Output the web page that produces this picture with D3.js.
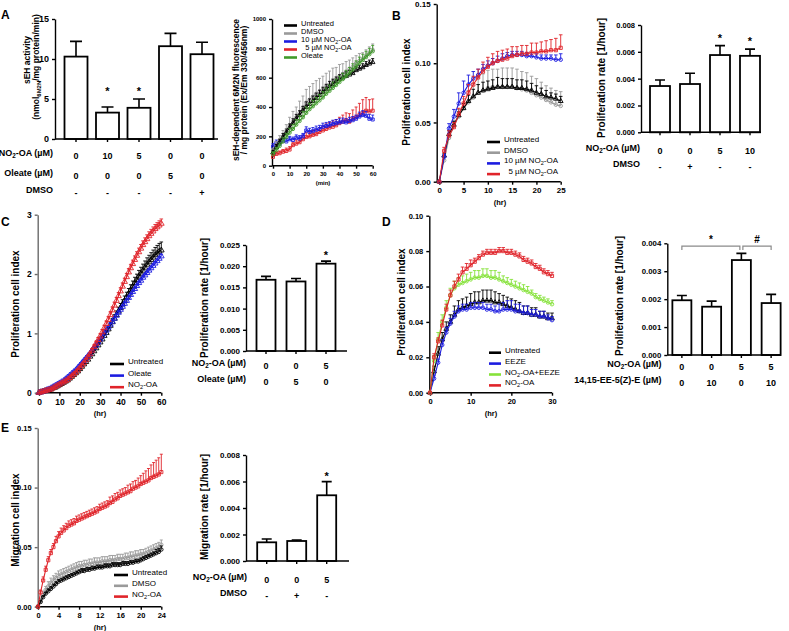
<!DOCTYPE html>
<html>
<head>
<meta charset="utf-8">
<script src="https://cdn.jsdelivr.net/npm/d3@7"></script>
<style>
  body { margin: 0; background: #fff; }
  svg { font-family: "Liberation Sans", Arial, sans-serif; }
</style>
</head>
<body>
<svg id="fig" width="789" height="631"></svg>
<script>
// ---------- data ----------
// A (left): sEH activity
var aActivity = [10.3, 3.3, 3.9, 11.6, 10.6];
var aActivityErr = [1.9, 0.7, 1.1, 1.6, 1.5];
var aStars = ["", "*", "*", "", ""];
var aNO2 = ["0", "10", "5", "0", "0"];
var aOleate = ["0", "0", "0", "5", "0"];
var aDMSO = ["-", "-", "-", "-", "+"];

// A (right): 6M2N fluorescence, every 2 min
var aMinutes = d3.range(0, 61, 2);
var aUntreated = [90,125,160,195,225,260,290,320,345,375,400,420,440,460,480,500,520,540,555,575,590,600,610,620,630,650,660,670,685,695,705];
var aUntreatedErr = [15,20,20,25,25,25,30,30,30,30,35,35,35,35,35,35,35,35,35,30,30,30,30,30,30,25,25,25,25,25,25];
var aDMSOLine = [100,140,175,200,230,270,300,330,360,395,430,450,470,490,505,520,540,555,575,590,610,625,640,660,675,700,715,730,750,770,790];
var aDMSOErr = [20,25,30,40,50,60,70,70,80,80,90,90,90,90,90,90,90,90,90,80,80,70,70,60,60,50,50,40,40,40,40];
var a10NO2 = [130,155,150,170,165,180,175,190,185,200,240,230,235,245,250,265,270,275,285,290,295,300,295,305,310,320,335,345,340,320,315];
var a10NO2Err = [20,20,20,20,20,20,20,20,20,20,25,25,25,25,25,25,25,25,25,25,25,25,25,25,25,25,30,30,30,30,30];
var a5NO2 = [60,80,85,95,100,110,140,150,160,180,195,200,210,215,230,240,250,260,265,275,290,300,310,300,320,330,345,360,375,370,375];
var a5NO2Err = [15,15,15,15,20,20,20,25,25,25,30,30,30,30,30,30,35,35,40,40,40,45,50,55,60,70,80,90,90,80,80];
var aOleateLine = [80,105,135,165,195,225,250,280,305,330,360,385,405,425,445,465,490,510,530,550,570,590,610,630,655,675,700,720,740,760,780];
var aOleateErr = [15,20,20,25,25,30,30,35,35,40,40,40,40,40,40,40,40,40,40,40,40,40,40,40,40,40,40,40,40,40,40];

// B (left): proliferation cell index, hourly
var bHours = d3.range(0, 26);
var bUntreated = [0,0.022,0.040,0.048,0.056,0.062,0.068,0.072,0.075,0.077,0.078,0.079,0.080,0.080,0.080,0.080,0.079,0.079,0.078,0.077,0.075,0.074,0.072,0.071,0.070,0.068];
var bUntreatedErr = [0,0.002,0.003,0.003,0.003,0.004,0.005,0.006,0.007,0.007,0.007,0.007,0.008,0.007,0.007,0.007,0.007,0.007,0.007,0.006,0.006,0.005,0.005,0.004,0.004,0.004];
var bDMSO = [0,0.018,0.037,0.047,0.055,0.062,0.067,0.071,0.075,0.077,0.079,0.080,0.080,0.080,0.080,0.080,0.079,0.078,0.077,0.075,0.073,0.071,0.069,0.067,0.065,0.064];
var bDMSOErr = [0,0.003,0.004,0.005,0.006,0.008,0.010,0.012,0.013,0.014,0.015,0.015,0.015,0.016,0.016,0.016,0.016,0.015,0.015,0.014,0.014,0.013,0.012,0.012,0.012,0.012];
var b10NO2 = [0,0.021,0.045,0.055,0.066,0.075,0.082,0.087,0.090,0.095,0.098,0.100,0.102,0.104,0.106,0.107,0.107,0.107,0.106,0.106,0.105,0.104,0.104,0.104,0.103,0.103];
var b10NO2Err = [0,0.002,0.004,0.006,0.009,0.010,0.008,0.006,0.005,0.004,0.004,0.004,0.004,0.004,0.003,0.003,0.003,0.003,0.003,0.003,0.003,0.003,0.003,0.003,0.004,0.005];
var b5NO2 = [0,0.026,0.039,0.046,0.057,0.066,0.075,0.082,0.088,0.093,0.097,0.100,0.102,0.103,0.104,0.106,0.107,0.108,0.108,0.109,0.109,0.110,0.110,0.111,0.111,0.113];
var b5NO2Err = [0,0.003,0.004,0.004,0.005,0.006,0.007,0.007,0.007,0.008,0.008,0.008,0.008,0.008,0.008,0.008,0.007,0.007,0.007,0.008,0.008,0.008,0.009,0.009,0.010,0.011];

// B (right): proliferation rate
var bRate = [0.00345, 0.0036, 0.00576, 0.0057];
var bRateErr = [0.00045, 0.0008, 0.0007, 0.0005];
var bStars = ["", "", "*", "*"];
var bNO2 = ["0", "0", "5", "10"];
var bDMSOFlag = ["-", "+", "-", "-"];

// C (left): proliferation cell index, hourly
var cHours = d3.range(0, 61);
var cUntreated = [0.00,0.01,0.02,0.03,0.04,0.05,0.06,0.08,0.09,0.11,
  0.13,0.15,0.17,0.19,0.21,0.24,0.27,0.30,0.33,0.36,
  0.40,0.44,0.48,0.52,0.56,0.61,0.65,0.70,0.75,0.80,
  0.85,0.90,0.96,1.01,1.07,1.13,1.19,1.25,1.31,1.37,
  1.43,1.49,1.55,1.61,1.67,1.73,1.79,1.85,1.90,1.96,
  2.01,2.06,2.11,2.16,2.20,2.24,2.28,2.32,2.35,2.38,2.40];
var cUntreatedErr = [0,0.002,0.003,0.004,0.005,0.006,0.007,0.008,0.009,0.010,
  0.011,0.012,0.013,0.014,0.015,0.016,0.018,0.019,0.020,0.022,
  0.024,0.026,0.028,0.030,0.032,0.034,0.036,0.038,0.040,0.042,
  0.045,0.048,0.050,0.053,0.056,0.059,0.062,0.065,0.068,0.071,
  0.074,0.077,0.080,0.083,0.086,0.089,0.092,0.095,0.098,0.101,
  0.104,0.107,0.110,0.113,0.116,0.120,0.124,0.128,0.132,0.136,0.140];
var cOleate = [0.00,0.01,0.02,0.03,0.05,0.06,0.08,0.10,0.12,0.14,
  0.16,0.18,0.20,0.23,0.26,0.29,0.32,0.35,0.38,0.42,
  0.46,0.50,0.54,0.58,0.62,0.66,0.71,0.76,0.80,0.85,
  0.90,0.95,1.00,1.05,1.10,1.15,1.20,1.25,1.30,1.35,
  1.40,1.45,1.50,1.55,1.60,1.65,1.70,1.75,1.80,1.85,
  1.89,1.94,1.98,2.02,2.06,2.10,2.14,2.18,2.22,2.26,2.30];
var cOleateErr = [0,0.001,0.002,0.003,0.004,0.005,0.005,0.006,0.006,0.007,
  0.007,0.008,0.008,0.009,0.009,0.010,0.010,0.011,0.011,0.012,
  0.012,0.013,0.013,0.014,0.014,0.015,0.015,0.016,0.016,0.017,
  0.017,0.018,0.018,0.019,0.019,0.020,0.020,0.021,0.021,0.022,
  0.022,0.023,0.023,0.024,0.024,0.025,0.025,0.026,0.026,0.027,
  0.027,0.028,0.028,0.029,0.029,0.030,0.030,0.031,0.031,0.032,0.032];
var cNO2 = [0.00,0.01,0.02,0.03,0.04,0.05,0.06,0.08,0.10,0.12,
  0.14,0.16,0.18,0.20,0.22,0.25,0.28,0.31,0.34,0.38,
  0.42,0.46,0.50,0.55,0.60,0.65,0.71,0.77,0.83,0.89,
  0.95,1.02,1.09,1.16,1.23,1.31,1.39,1.47,1.55,1.63,
  1.71,1.79,1.87,1.95,2.03,2.10,2.17,2.24,2.31,2.37,
  2.43,2.49,2.54,2.59,2.64,2.68,2.72,2.76,2.79,2.82,2.85];
var cNO2Err = [0,0.002,0.003,0.004,0.005,0.006,0.007,0.008,0.009,0.010,
  0.011,0.012,0.013,0.014,0.015,0.016,0.017,0.018,0.019,0.020,
  0.022,0.024,0.026,0.028,0.030,0.032,0.034,0.036,0.038,0.040,
  0.042,0.044,0.046,0.048,0.050,0.052,0.054,0.055,0.056,0.057,
  0.058,0.059,0.060,0.061,0.062,0.063,0.064,0.065,0.066,0.067,
  0.068,0.069,0.070,0.071,0.072,0.073,0.074,0.075,0.076,0.077,0.078];

// C (right): proliferation rate
var cRate = [0.0168, 0.0164, 0.0206];
var cRateErr = [0.0008, 0.0007, 0.0006];
var cStars = ["", "", "*"];
var cNO2Flag = ["0", "0", "5"];
var cOleateFlag = ["0", "5", "0"];

// D (left): proliferation cell index, hourly
var dHours = d3.range(0, 31);
var dUntreated = [0,0.012,0.022,0.030,0.036,0.040,0.044,0.047,0.048,0.049,0.050,0.051,0.051,0.052,0.052,0.052,0.051,0.051,0.050,0.049,0.048,0.047,0.046,0.045,0.045,0.044,0.044,0.043,0.043,0.042,0.042];
var dUntreatedErr = [0,0.003,0.004,0.004,0.004,0.004,0.005,0.005,0.005,0.005,0.006,0.006,0.006,0.006,0.006,0.006,0.006,0.005,0.005,0.005,0.005,0.005,0.005,0.004,0.004,0.004,0.004,0.003,0.003,0.003,0.003];
var dEEZE = [0,0.008,0.017,0.027,0.034,0.039,0.043,0.046,0.047,0.047,0.048,0.048,0.048,0.048,0.047,0.047,0.046,0.046,0.047,0.047,0.047,0.046,0.046,0.045,0.045,0.044,0.044,0.043,0.043,0.042,0.041];
var dEEZEErr = [0,0.002,0.002,0.003,0.003,0.003,0.003,0.003,0.003,0.003,0.003,0.003,0.003,0.003,0.003,0.003,0.003,0.004,0.004,0.005,0.005,0.004,0.004,0.004,0.004,0.003,0.003,0.003,0.003,0.002,0.002];
var dCombo = [0,0.018,0.030,0.040,0.048,0.055,0.059,0.061,0.062,0.063,0.064,0.065,0.065,0.066,0.066,0.065,0.065,0.064,0.063,0.062,0.061,0.060,0.059,0.058,0.057,0.056,0.054,0.053,0.052,0.051,0.050];
var dComboErr = [0,0.003,0.004,0.004,0.004,0.004,0.004,0.004,0.004,0.004,0.004,0.004,0.004,0.004,0.004,0.004,0.004,0.004,0.003,0.003,0.003,0.003,0.003,0.003,0.003,0.002,0.002,0.002,0.002,0.002,0.002];
var dNO2 = [0,0.020,0.029,0.038,0.047,0.055,0.060,0.064,0.068,0.070,0.072,0.074,0.076,0.078,0.079,0.079,0.079,0.080,0.080,0.079,0.079,0.078,0.077,0.075,0.074,0.073,0.071,0.070,0.068,0.067,0.066];
var dNO2Err = [0,0.002,0.002,0.003,0.003,0.003,0.003,0.003,0.003,0.003,0.003,0.002,0.002,0.002,0.002,0.002,0.002,0.002,0.002,0.002,0.002,0.002,0.002,0.002,0.002,0.002,0.002,0.002,0.002,0.002,0.002];

// D (right): proliferation rate
var dRate = [0.00196, 0.00173, 0.0034, 0.00186];
var dRateErr = [0.00017, 0.0002, 0.00024, 0.00031];
var dNO2Flag = ["0", "0", "5", "5"];
var dEEZEFlag = ["0", "10", "0", "10"];
var dBrackets = [{from: 0, to: 2, label: "*"}, {from: 2, to: 3, label: "#"}];

// E (left): migration cell index, every 30 min
var eHours = d3.range(0, 24.01, 0.5);
var eUntreated = [0.000,0.004,0.008,0.011,0.013,0.015,0.017,0.019,0.021,
  0.022,0.023,0.024,0.025,0.026,0.027,0.028,0.029,
  0.030,0.030,0.031,0.031,0.032,0.032,0.033,0.033,
  0.033,0.034,0.034,0.034,0.035,0.035,0.035,0.035,
  0.036,0.036,0.036,0.037,0.037,0.038,0.038,0.039,
  0.040,0.041,0.042,0.043,0.044,0.045,0.046,0.048];
var eUntreatedErr = [0,0.001,0.001,0.001,0.002,0.002,0.002,0.002,0.002,
  0.002,0.002,0.002,0.002,0.002,0.002,0.002,0.002,
  0.002,0.002,0.002,0.002,0.002,0.002,0.002,0.002,
  0.002,0.002,0.002,0.002,0.002,0.002,0.002,0.002,
  0.002,0.002,0.002,0.002,0.002,0.002,0.002,0.002,
  0.002,0.002,0.002,0.002,0.002,0.003,0.003,0.003];
var eDMSO = [0.000,0.005,0.010,0.014,0.017,0.020,0.022,0.024,0.026,
  0.027,0.028,0.029,0.030,0.031,0.032,0.033,0.034,
  0.034,0.035,0.035,0.036,0.036,0.037,0.037,0.037,
  0.038,0.038,0.038,0.039,0.039,0.039,0.040,0.040,
  0.040,0.041,0.041,0.042,0.042,0.043,0.043,0.044,
  0.044,0.045,0.046,0.047,0.048,0.049,0.050,0.052];
var eDMSOErr = [0,0.002,0.003,0.003,0.004,0.004,0.004,0.004,0.004,
  0.004,0.004,0.004,0.004,0.004,0.004,0.004,0.004,
  0.004,0.004,0.004,0.004,0.004,0.004,0.004,0.004,
  0.004,0.004,0.004,0.004,0.004,0.004,0.004,0.004,
  0.004,0.004,0.004,0.004,0.004,0.004,0.004,0.004,
  0.004,0.004,0.004,0.004,0.004,0.004,0.004,0.004];
var eNO2 = [0.000,0.012,0.022,0.031,0.039,0.045,0.050,0.055,0.059,
  0.062,0.064,0.066,0.068,0.069,0.070,0.072,0.073,
  0.074,0.075,0.076,0.077,0.078,0.079,0.080,0.082,
  0.083,0.084,0.085,0.087,0.088,0.090,0.091,0.093,
  0.094,0.095,0.096,0.097,0.099,0.100,0.101,0.103,
  0.104,0.105,0.106,0.108,0.109,0.110,0.111,0.113];
var eNO2Err = [0,0.002,0.003,0.003,0.003,0.003,0.003,0.004,0.004,
  0.004,0.004,0.004,0.004,0.004,0.004,0.004,0.004,
  0.004,0.004,0.004,0.004,0.004,0.004,0.004,0.004,
  0.004,0.004,0.004,0.005,0.005,0.005,0.005,0.005,
  0.005,0.005,0.006,0.006,0.006,0.006,0.007,0.007,
  0.008,0.009,0.010,0.011,0.012,0.013,0.014,0.015];

// E (right): migration rate
var eRate = [0.00141, 0.00151, 0.00496];
var eRateErr = [0.00025, 0.00008, 0.00103];
var eStars = ["", "", "*"];
var eNO2Flag = ["0", "0", "5"];
var eDMSOFlag = ["-", "+", "-"];

// ---------- colours ----------
var BLACK = "#000", GREY = "#9a9a9a", BLUE = "#1c1ce0", RED = "#e0242a",
    GREEN = "#3f9a2a", LIME = "#86e23a";

// ---------- helpers ----------
var svg = d3.select("#fig");
var shapes = {tri: d3.symbolTriangle, circ: d3.symbolCircle, sq: d3.symbolSquare};

// "{..}" in a label marks a subscript
function rich(text, str) {
  var parts = str.split(/\{([^}]*)\}/), down = false;
  parts.forEach(function(p, i) {
    if (i % 2) {
      text.append("tspan").style("font-size", "0.7em").attr("dy", 2).text(p);
      down = true;
    } else if (p) {
      text.append("tspan").attr("dy", down ? -2 : 0).text(p);
      down = false;
    }
  });
  return text;
}

function styleAxis(a, size, color) {
  a.selectAll("path, line").attr("stroke", color).attr("stroke-width", 1.4);
  a.selectAll("text").attr("font-size", size).attr("font-weight", "bold")
    .attr("fill", "#000").attr("font-family", '"Liberation Sans", Arial, sans-serif');
}

function vTitle(lines, x, cy, size, gap) {
  lines.forEach(function(l, i) {
    var t = svg.append("text")
      .attr("transform", "translate(" + (x + i * gap) + "," + cy + ") rotate(-90)")
      .attr("dy", "0.35em").attr("text-anchor", "middle")
      .attr("font-size", size).attr("font-weight", "bold");
    rich(t, l);
  });
}

function letter(s, x, y) {
  svg.append("text").attr("x", x).attr("y", y).attr("font-size", 12)
    .attr("font-weight", "bold").text(s);
}

function linePanel(p) {
  var g = svg.append("g");
  var x = d3.scaleLinear().domain(p.xDomain).range([p.x0, p.x1]);
  var y = d3.scaleLinear().domain(p.yDomain).range([p.yBottom, p.yTop]);

  var xa = g.append("g").attr("transform", "translate(0," + p.yBottom + ")")
    .call(d3.axisBottom(x).tickValues(p.xTicks).tickSize(3).tickSizeOuter(0));
  xa.select(".domain").attr("d", "M" + p.axX + ",0H" + p.x1);
  styleAxis(xa, p.font, "#000");

  var ya = g.append("g").attr("transform", "translate(" + p.axX + ",0)")
    .call(d3.axisLeft(y).tickValues(p.yTicks).tickFormat(p.yFmt).tickSize(3).tickSizeOuter(0));
  styleAxis(ya, p.font, p.yColor || "#000");

  (p.order || d3.range(p.series.length)).forEach(function(k) {
    var s = p.series[k];
    var pts = p.times.map(function(t, i) { return {t: t, v: s.values[i], e: s.errs[i]}; });
    g.append("g").attr("stroke", s.color).attr("stroke-width", 0.9)
      .selectAll("path").data(pts).join("path")
      .attr("d", function(d) {
        var top = y(d.v + d.e);
        return "M" + x(d.t) + "," + y(d.v) + "V" + top +
               "M" + (x(d.t) - p.cap) + "," + top + "h" + 2 * p.cap;
      });
    g.append("path").datum(pts)
      .attr("fill", "none").attr("stroke", s.color).attr("stroke-width", 1.1)
      .attr("d", d3.line().x(function(d) { return x(d.t); }).y(function(d) { return y(d.v); }));
    g.append("g").attr("fill", "none").attr("stroke", s.color).attr("stroke-width", 0.9)
      .selectAll("path").data(pts).join("path")
      .attr("transform", function(d) { return "translate(" + x(d.t) + "," + y(d.v) + ")"; })
      .attr("d", d3.symbol(shapes[s.shape], p.msize));
  });

  // legend: [x, y, row step, line length, font size]
  var lg = g.append("g").attr("transform", "translate(" + p.legend[0] + "," + p.legend[1] + ")");
  p.series.forEach(function(s, i) {
    var row = lg.append("g").attr("transform", "translate(0," + i * p.legend[2] + ")");
    row.append("line").attr("x2", p.legend[3]).attr("stroke", s.color).attr("stroke-width", 2.6);
    rich(row.append("text").attr("x", p.legend[3] + 4).attr("dy", "0.35em")
      .attr("font-size", p.legend[4]).style("white-space", "pre"), s.name);
  });

  g.append("text").attr("x", p.xLabel[0]).attr("y", p.xLabel[1]).attr("dy", "0.35em")
    .attr("text-anchor", "middle").attr("font-size", p.xLabel[2]).attr("font-weight", "bold")
    .text(p.xLabel[3]);
}

function barPanel(p) {
  var g = svg.append("g");
  var idx = d3.range(p.values.length);
  var x = d3.scaleBand().domain(idx).range(p.band);
  var y = d3.scaleLinear().domain(p.yDomain).range([p.yBottom, p.yTop]);
  var cx = function(i) { return x(i) + x.bandwidth() / 2; };

  g.append("g").selectAll("rect").data(idx).join("rect")
    .attr("x", function(i) { return cx(i) - p.bw / 2; }).attr("width", p.bw)
    .attr("y", function(i) { return y(p.values[i]); })
    .attr("height", function(i) { return y(0) - y(p.values[i]); })
    .attr("fill", "#fff").attr("stroke", "#000").attr("stroke-width", 1.8);

  g.append("g").attr("stroke", "#000").attr("stroke-width", 1.6)
    .selectAll("path").data(idx).join("path")
    .attr("d", function(i) {
      var top = y(p.values[i] + p.errs[i]);
      return "M" + cx(i) + "," + y(p.values[i]) + "V" + top +
             "M" + (cx(i) - p.cap) + "," + top + "h" + 2 * p.cap;
    });

  var xa = g.append("g").attr("transform", "translate(0," + p.yBottom + ")")
    .call(d3.axisBottom(x).tickSize(3).tickSizeOuter(0).tickFormat(""));
  xa.select(".domain").attr("d", "M" + p.axis[0] + ",0H" + p.axis[1]);
  styleAxis(xa, p.font, "#000");

  var ya = g.append("g").attr("transform", "translate(" + p.axis[0] + ",0)")
    .call(d3.axisLeft(y).tickValues(p.yTicks).tickFormat(p.yFmt).tickSize(3).tickSizeOuter(0));
  styleAxis(ya, p.font, "#000");

  if (p.stars) {
    g.selectAll(".star").data(idx.filter(function(i) { return p.stars[i]; })).join("text")
      .attr("x", cx)
      .attr("y", function(i) {
        var c = p.starLevel != null ? y(p.starLevel) : y(p.values[i] + p.errs[i]) - p.starGap;
        return c + 6;
      })
      .attr("text-anchor", "middle").attr("font-size", 11).attr("font-weight", "bold")
      .text(function(i) { return p.stars[i]; });
  }

  (p.brackets || []).forEach(function(b) {
    var yl = y(p.bracketLevel), x1 = cx(b.from) + (b.from === 2 ? 1.5 : 0),
        x2 = cx(b.to) - (b.to === 2 ? 1.5 : 0);
    g.append("path").attr("fill", "none").attr("stroke", "#8a8a8a").attr("stroke-width", 1.2)
      .attr("d", "M" + x1 + "," + (yl + 4) + "V" + yl + "H" + x2 + "V" + (yl + 4));
    g.append("text").attr("x", (x1 + x2) / 2).attr("y", yl - 3)
      .attr("text-anchor", "middle").attr("font-size", 10).attr("font-weight", "bold")
      .text(b.label);
  });

  p.rows.forEach(function(r) {
    rich(g.append("text").attr("x", p.labelX).attr("y", r.y).attr("dy", "0.35em")
      .attr("text-anchor", "end").attr("font-size", 9).attr("font-weight", "bold"), r.label);
    g.selectAll(null).data(idx).join("text")
      .attr("x", cx).attr("y", r.y).attr("dy", "0.35em")
      .attr("text-anchor", "middle").attr("font-size", 9).attr("font-weight", "bold")
      .text(function(i) { return r.vals[i]; });
  });
}

var f2 = d3.format(".2f"), f3 = d3.format(".3f"), f0 = d3.format("d");

// ---------- A ----------
letter("A", 1, 19);
barPanel({
  values: aActivity, errs: aActivityErr, stars: aStars, starLevel: 6.2,
  band: [60.25, 217.75], axis: [55, 218], bw: 23, cap: 6,
  yTop: 19, yBottom: 139, yDomain: [0, 15], yTicks: [0, 5, 10, 15], yFmt: f0, font: 9,
  labelX: 53,
  rows: [{label: "NO{2}-OA (µM)", y: 156, vals: aNO2},
         {label: "Oleate (µM)", y: 176, vals: aOleate},
         {label: "DMSO", y: 193, vals: aDMSO}]
});
vTitle(["sEH activity"], 30, 60, 8.5, 0);
vTitle(["(nmol{6M2N}/mg protein/min)"], 38.5, 67, 8.5, 0);

linePanel({
  times: aMinutes, xDomain: [0, 60], yDomain: [0, 1000],
  axX: 272, x0: 273, x1: 372.7, yTop: 19, yBottom: 165.7,
  xTicks: [0, 10, 20, 30, 40, 50, 60], yTicks: [0, 200, 400, 600, 800, 1000], yFmt: f0,
  font: 6, cap: 1.5, msize: 9, order: [3, 2, 1, 0, 4],
  series: [
    {name: "Untreated", color: BLACK, values: aUntreated, errs: aUntreatedErr, shape: "tri"},
    {name: "DMSO", color: GREY, values: aDMSOLine, errs: aDMSOErr, shape: "circ"},
    {name: "10 µM NO{2}-OA", color: BLUE, values: a10NO2, errs: a10NO2Err, shape: "sq"},
    {name: "  5 µM NO{2}-OA", color: RED, values: a5NO2, errs: a5NO2Err, shape: "sq"},
    {name: "Oleate", color: GREEN, values: aOleateLine, errs: aOleateErr, shape: "circ"}
  ],
  legend: [284, 25.5, 8, 13, 7.5],
  xLabel: [323, 183, 6, "(min)"]
});
vTitle(["sEH-dependent 6M2N fluorescence", "/ mg protein (Ex/Em 330/456nm)"], 239, 90, 8.5, 8);

// ---------- B ----------
letter("B", 392, 20);
linePanel({
  times: bHours, xDomain: [0, 25], yDomain: [0, 0.15],
  axX: 436.7, x0: 439.3, x1: 560.7, yTop: 4, yBottom: 181.7,
  xTicks: [0, 5, 10, 15, 20, 25], yTicks: [0, 0.05, 0.10, 0.15], yFmt: f2,
  font: 8, cap: 1.8, msize: 10, order: [1, 0, 2, 3],
  series: [
    {name: "Untreated", color: BLACK, values: bUntreated, errs: bUntreatedErr, shape: "tri"},
    {name: "DMSO", color: GREY, values: bDMSO, errs: bDMSOErr, shape: "circ"},
    {name: "10 µM NO{2}-OA", color: BLUE, values: b10NO2, errs: b10NO2Err, shape: "circ"},
    {name: "  5 µM NO{2}-OA", color: RED, values: b5NO2, errs: b5NO2Err, shape: "sq"}
  ],
  legend: [487, 142, 10.7, 13, 8],
  xLabel: [500, 202, 7.5, "(hr)"]
});
vTitle(["Proliferation cell index"], 410, 92, 10, 0);

barPanel({
  values: bRate, errs: bRateErr, stars: bStars, starGap: 10,
  band: [645, 765], axis: [641, 761], bw: 20, cap: 5,
  yTop: 25, yBottom: 132.3, yDomain: [0, 0.008], yTicks: [0, 0.002, 0.004, 0.006, 0.008], yFmt: f3,
  font: 7.5, labelX: 640,
  rows: [{label: "NO{2}-OA (µM)", y: 151, vals: bNO2},
         {label: "DMSO", y: 167, vals: bDMSOFlag}]
});
vTitle(["Proliferation rate [1/hour]"], 605, 78, 10, 0);

// ---------- C ----------
letter("C", 1, 226);
linePanel({
  times: cHours, xDomain: [0, 60], yDomain: [0, 3],
  axX: 37.7, x0: 39, x1: 161.3, yTop: 214.7, yBottom: 392.7,
  xTicks: [0, 10, 20, 30, 40, 50, 60], yTicks: [0, 1, 2, 3], yFmt: f0,
  font: 8.5, cap: 1.8, msize: 14, yColor: "#6a6a6a",
  series: [
    {name: "Untreated", color: BLACK, values: cUntreated, errs: cUntreatedErr, shape: "tri"},
    {name: "Oleate", color: BLUE, values: cOleate, errs: cOleateErr, shape: "tri"},
    {name: "NO{2}-OA", color: RED, values: cNO2, errs: cNO2Err, shape: "tri"}
  ],
  legend: [110, 364, 11.6, 14, 8],
  xLabel: [100, 413, 7.5, "(hr)"]
});
vTitle(["Proliferation cell index"], 19, 304, 10, 0);

barPanel({
  values: cRate, errs: cRateErr, stars: cStars, starGap: 8,
  band: [251, 341], axis: [246, 347], bw: 19, cap: 5,
  yTop: 245, yBottom: 351, yDomain: [0, 0.025],
  yTicks: [0, 0.005, 0.010, 0.015, 0.020, 0.025], yFmt: f3,
  font: 8, labelX: 246,
  rows: [{label: "NO{2}-OA (µM)", y: 365.5, vals: cNO2Flag},
         {label: "Oleate (µM)", y: 381.5, vals: cOleateFlag}]
});
vTitle(["Proliferation rate [1/hour]"], 208, 298, 10, 0);

// ---------- D ----------
letter("D", 382, 226);
linePanel({
  times: dHours, xDomain: [0, 30], yDomain: [0, 0.10],
  axX: 429.3, x0: 430, x1: 552, yTop: 215.7, yBottom: 392.7,
  xTicks: [0, 10, 20, 30], yTicks: [0, 0.02, 0.04, 0.06, 0.08, 0.10], yFmt: f2,
  font: 7.5, cap: 1.8, msize: 10,
  series: [
    {name: "Untreated", color: BLACK, values: dUntreated, errs: dUntreatedErr, shape: "tri"},
    {name: "EEZE", color: BLUE, values: dEEZE, errs: dEEZEErr, shape: "circ"},
    {name: "NO{2}-OA+EEZE", color: LIME, values: dCombo, errs: dComboErr, shape: "circ"},
    {name: "NO{2}-OA", color: RED, values: dNO2, errs: dNO2Err, shape: "sq"}
  ],
  legend: [489, 352.7, 10.9, 12, 8],
  xLabel: [491, 413, 7.5, "(hr)"]
});
vTitle(["Proliferation cell index"], 405, 302, 10, 0);

barPanel({
  values: dRate, errs: dRateErr,
  brackets: dBrackets, bracketLevel: 0.0039,
  band: [667, 786], axis: [667.3, 781], bw: 19, cap: 5,
  yTop: 243.3, yBottom: 355, yDomain: [0, 0.004],
  yTicks: [0, 0.001, 0.002, 0.003, 0.004], yFmt: f3,
  font: 7.8, labelX: 661.5,
  rows: [{label: "NO{2}-OA (µM)", y: 367, vals: dNO2Flag},
         {label: "14,15-EE-5(Z)-E (µM)", y: 382.5, vals: dEEZEFlag}]
});
vTitle(["Proliferation rate [1/hour]"], 623, 296, 10, 0);

// ---------- E ----------
letter("E", 1, 432);
linePanel({
  times: eHours, xDomain: [0, 24], yDomain: [0, 0.15],
  axX: 37.7, x0: 38, x1: 161.3, yTop: 428, yBottom: 606.7,
  xTicks: [0, 4, 8, 12, 16, 20, 24], yTicks: [0, 0.05, 0.10, 0.15], yFmt: f2,
  font: 7.5, cap: 1.5, msize: 10, yColor: "#6a6a6a", order: [1, 0, 2],
  series: [
    {name: "Untreated", color: BLACK, values: eUntreated, errs: eUntreatedErr, shape: "circ"},
    {name: "DMSO", color: GREY, values: eDMSO, errs: eDMSOErr, shape: "circ"},
    {name: "NO{2}-OA", color: RED, values: eNO2, errs: eNO2Err, shape: "sq"}
  ],
  legend: [114, 575, 10.8, 14, 8],
  xLabel: [100, 627, 7.5, "(hr)"]
});
vTitle(["Migration cell index"], 19, 520, 10, 0);

barPanel({
  values: eRate, errs: eRateErr, stars: eStars, starGap: 7.5,
  band: [251.7, 341.7], axis: [246, 349], bw: 19, cap: 5,
  yTop: 455, yBottom: 561, yDomain: [0, 0.008],
  yTicks: [0, 0.002, 0.004, 0.006, 0.008], yFmt: f3,
  font: 8, labelX: 247,
  rows: [{label: "NO{2}-OA (µM)", y: 579.5, vals: eNO2Flag},
         {label: "DMSO", y: 595.5, vals: eDMSOFlag}]
});
vTitle(["Migration rate [1/hour]"], 208, 507, 10, 0);
</script>
</body>
</html>
